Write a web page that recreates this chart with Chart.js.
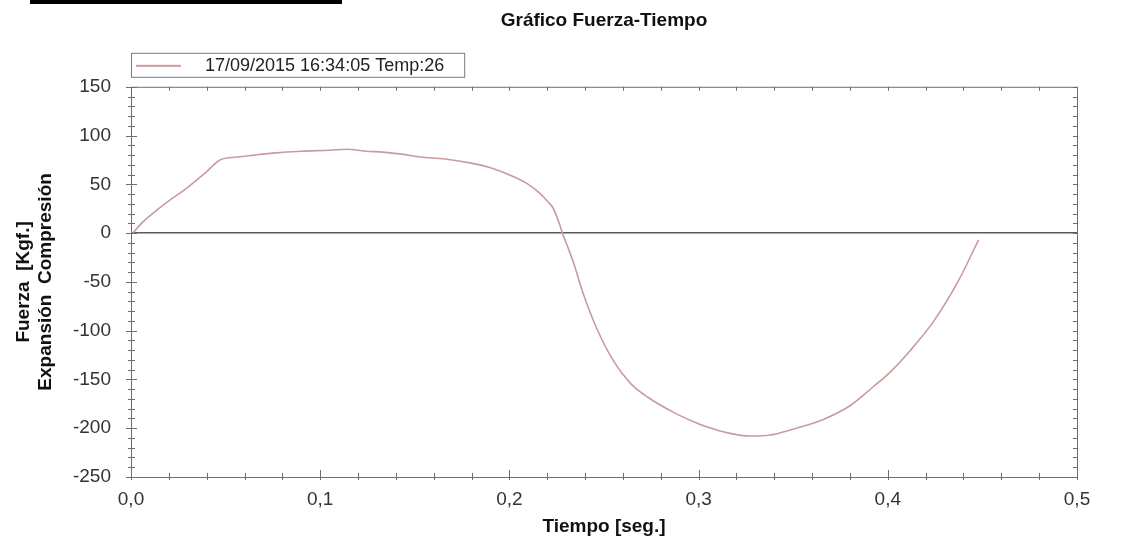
<!DOCTYPE html>
<html>
<head>
<meta charset="utf-8">
<script src="https://cdn.jsdelivr.net/npm/chart.js@4.4.0/dist/chart.umd.min.js"></script>
<style>
  html, body { margin: 0; padding: 0; background: #fff; }
  #wrap { width: 1121px; height: 546px; }
</style>
</head>
<body>
<div id="wrap"><canvas id="graph-area" width="1121" height="546"></canvas></div>
<script>
// datos
const tiempo = [0.001, 0.006, 0.012, 0.020, 0.030, 0.040, 0.047, 0.056, 0.065, 0.075,
  0.090, 0.105, 0.114, 0.124, 0.133, 0.143, 0.153, 0.166, 0.179, 0.190,
  0.202, 0.210, 0.216, 0.220, 0.223, 0.226, 0.228, 0.231, 0.234, 0.239,
  0.246, 0.255, 0.264, 0.273, 0.287, 0.297, 0.305, 0.316, 0.327, 0.338,
  0.348, 0.357, 0.366, 0.380, 0.392, 0.401, 0.412, 0.424, 0.437, 0.448];
const fuerza = [0, 11, 21, 33, 47, 63, 75, 78, 80, 82,
  84, 85, 86, 84, 83, 81, 78, 76, 72, 67,
  58, 50, 41, 33, 26, 12, 0, -15, -31, -62,
  -97, -131, -154, -168, -184, -193, -199, -205, -208, -207,
  -202, -197, -191, -177, -158, -143, -120, -91, -50, -7];

const ticksX = [0, 0.1, 0.2, 0.3, 0.4, 0.5];
const ticksY = [150, 100, 50, 0, -50, -100, -150, -200, -250];
const leyenda = '17/09/2015 16:34:05 Temp:26';
const titulo = 'Gráfico Fuerza-Tiempo';
const tituloX = 'Tiempo [seg.]';
const tituloY = ['Fuerza  [Kgf.]', 'Expansión  Compresión'];

const colorLinea = '#c89c9c';
const fuente = '"Liberation Sans", Arial, sans-serif';

// muestra de la leyenda: linea corta con hueco a la derecha
function muestraLeyenda() {
  const c = document.createElement('canvas');
  c.width = 60;
  c.height = 4;
  const g = c.getContext('2d');
  g.strokeStyle = colorLinea;
  g.lineWidth = 2;
  g.beginPath();
  g.moveTo(0, 2);
  g.lineTo(45, 2);
  g.stroke();
  return c;
}

const marco = {
  id: 'marco',
  beforeLayout(chart) {
    // un poco mas de aire bajo la leyenda
    const lg = chart.legend;
    if (lg && !lg._ajustada) {
      const fit = lg.fit.bind(lg);
      lg.fit = function () { fit(); this.height += 2; };
      lg._ajustada = true;
    }
  },
  afterDraw(chart) {
    const {ctx, chartArea: a, scales: {x, y}} = chart;
    ctx.save();
    ctx.strokeStyle = '#6e6e6e';
    ctx.lineWidth = 1;
    ctx.strokeRect(a.left + 0.5, a.top + 0.5, a.right - a.left, a.bottom - a.top);

    // marcas menores del eje x
    ctx.beginPath();
    for (let i = 0; i <= 25; i++) {
      const px = Math.round(x.getPixelForValue(i * 0.02)) + 0.5;
      const mayor = i % 5 === 0;
      ctx.moveTo(px, a.bottom - (mayor ? 7 : 4));
      ctx.lineTo(px, a.bottom + 3);
      ctx.moveTo(px, a.top);
      ctx.lineTo(px, a.top + 4);
    }
    // marcas menores del eje y
    for (let v = -250; v <= 150; v += 10) {
      const py = Math.round(y.getPixelForValue(v)) + 0.5;
      const mayor = v % 50 === 0;
      ctx.moveTo(a.left - (mayor ? 5 : 3), py);
      ctx.lineTo(a.left + (mayor ? 6 : 4), py);
      ctx.moveTo(a.right - 4, py);
      ctx.lineTo(a.right, py);
    }
    ctx.stroke();

    // caja de la leyenda
    const hb = chart.legend.legendHitBoxes[0];
    if (hb) {
      ctx.strokeStyle = '#7a7a7a';
      ctx.strokeRect(a.left + 0.5, hb.top - 3.5, hb.left + hb.width + 20 - a.left, hb.height + 6);
    }

    // barra negra superior
    ctx.fillStyle = '#000';
    ctx.fillRect(30, 0, 312, 4);
    ctx.restore();
  }
};

const datos = tiempo.map((t, i) => ({x: t, y: fuerza[i]}));

new Chart(document.getElementById('graph-area').getContext('2d'), {
  type: 'line',
  data: {
    datasets: [{
      label: leyenda,
      data: datos,
      borderColor: colorLinea,
      backgroundColor: colorLinea,
      borderWidth: 1.6,
      pointRadius: 0,
      cubicInterpolationMode: 'monotone',
      pointStyle: muestraLeyenda()
    }]
  },
  options: {
    responsive: false,
    animation: false,
    layout: {padding: {left: 0, right: 44, top: 0, bottom: 0}},
    plugins: {
      title: {
        display: true,
        text: titulo,
        fullSize: false,
        color: '#111',
        font: {family: fuente, size: 19, weight: 'bold'},
        padding: {top: 9, bottom: 20}
      },
      legend: {
        display: true,
        fullSize: false,
        align: 'start',
        labels: {
          usePointStyle: true,
          pointStyleWidth: 60,
          padding: 5,
          color: '#222',
          font: {family: fuente, size: 18}
        }
      },
      tooltip: {enabled: false}
    },
    scales: {
      x: {
        type: 'linear',
        min: 0,
        max: 0.5,
        afterBuildTicks: s => { s.ticks = ticksX.map(v => ({value: v})); },
        afterFit: s => { s.height = 69; },
        border: {display: false},
        grid: {display: false, drawTicks: false},
        ticks: {
          padding: 11,
          color: '#333',
          font: {family: fuente, size: 19},
          callback: v => v.toFixed(1).replace('.', ',')
        },
        title: {
          display: true,
          text: tituloX,
          color: '#111',
          font: {family: fuente, size: 19, weight: 'bold'},
          padding: {top: 4, bottom: 8}
        }
      },
      y: {
        min: -250,
        max: 150,
        afterBuildTicks: s => { s.ticks = ticksY.map(v => ({value: v})); },
        afterFit: s => { s.width = 131; },
        border: {display: false},
        grid: {
          drawTicks: false,
          lineWidth: 1.5,
          color: c => (c.tick && c.tick.value === 0 ? '#5a5a5a' : 'rgba(0,0,0,0)')
        },
        ticks: {
          padding: 20,
          color: '#333',
          font: {family: fuente, size: 19}
        },
        title: {
          display: true,
          text: tituloY,
          color: '#111',
          font: {family: fuente, size: 19, weight: 'bold', lineHeight: 1.2},
          padding: {top: 12, bottom: 4}
        }
      }
    }
  },
  plugins: [marco]
});
</script>
</body>
</html>
